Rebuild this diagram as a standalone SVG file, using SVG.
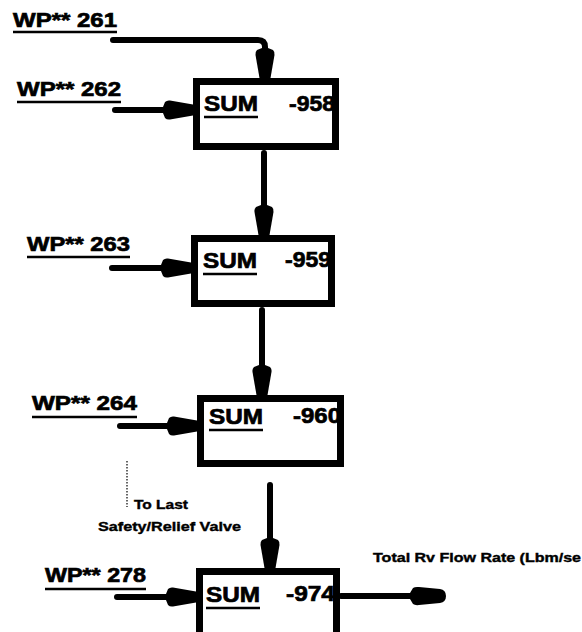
<svg xmlns="http://www.w3.org/2000/svg" width="582" height="632" viewBox="0 0 582 632">
<style>
.box{fill:#fff;stroke:#000;stroke-width:7}
.lbl{font-family:"Liberation Sans",Arial,sans-serif;font-weight:bold;fill:#000;stroke:#000;stroke-width:0.7}
.wp{font-size:21px}
.sum{font-size:22px}
.small{font-size:13px;stroke-width:0.4}
.ul{stroke:#000;stroke-width:2.5}
.wire{fill:none;stroke:#000;stroke-width:6;stroke-linecap:round;stroke-linejoin:round}
</style>
<defs>
<marker id="ah" markerUnits="userSpaceOnUse" markerWidth="30" markerHeight="20" refX="0" refY="10" orient="auto" viewBox="0 0 30 20">
<path d="M0,7 L2,2 Q4,0 7,0.5 L30,4.5 L30,15.5 L7,19.5 Q4,20 2,18 L0,13 Z" fill="#000"/>
</marker>
<marker id="bulb" markerUnits="userSpaceOnUse" markerWidth="37" markerHeight="20" refX="0" refY="10" orient="auto" viewBox="0 0 37 20">
<path d="M0,7 L3,2 Q5,0.5 9,1 L30,3 Q36,4 36,10 Q36,16 30,17 L9,19 Q5,19.5 3,18 L0,13 Z" fill="#000"/>
</marker>
</defs>

<g id="connectors">
<path class="wire" d="M113,40 H258 Q265,40 265,47 V48" marker-end="url(#ah)"/>
<path class="wire" d="M115,110 H163" marker-end="url(#ah)"/>
<path class="wire" d="M264,153 V205" marker-end="url(#ah)"/>
<path class="wire" d="M112,268 H161" marker-end="url(#ah)"/>
<path class="wire" d="M262,310 V365" marker-end="url(#ah)"/>
<path class="wire" d="M120,426 H167" marker-end="url(#ah)"/>
<path class="wire" d="M270,485 V538" marker-end="url(#ah)"/>
<path class="wire" d="M117,597 H166" marker-end="url(#ah)"/>
<path class="wire" d="M341,596 H410" marker-end="url(#bulb)"/>
<line x1="127" y1="461" x2="127" y2="507" stroke="#000" stroke-width="1.2" stroke-dasharray="1.5,1.5"/>
</g>

<g id="wp261">
<text class="lbl wp" x="13" y="27" textLength="104" lengthAdjust="spacingAndGlyphs">WP** 261</text>
<line class="ul" x1="13" y1="32" x2="117" y2="32"/>
</g>
<g id="wp262">
<text class="lbl wp" x="17" y="96" textLength="104" lengthAdjust="spacingAndGlyphs">WP** 262</text>
<line class="ul" x1="17" y1="102" x2="121" y2="102"/>
</g>
<g id="wp263">
<text class="lbl wp" x="27" y="251" textLength="103" lengthAdjust="spacingAndGlyphs">WP** 263</text>
<line class="ul" x1="27" y1="257" x2="130" y2="257"/>
</g>
<g id="wp264">
<text class="lbl wp" x="32" y="410" textLength="105" lengthAdjust="spacingAndGlyphs">WP** 264</text>
<line class="ul" x1="32" y1="417" x2="137" y2="417"/>
</g>
<g id="wp278">
<text class="lbl wp" x="45" y="582" textLength="101" lengthAdjust="spacingAndGlyphs">WP** 278</text>
<line class="ul" x1="45" y1="589" x2="146" y2="589"/>
</g>

<g id="sum958">
<rect class="box" x="196.5" y="81.5" width="139" height="65"/>
<text class="lbl sum" x="204" y="111" textLength="54" lengthAdjust="spacingAndGlyphs">SUM</text>
<line class="ul" x1="204" y1="117" x2="258" y2="117"/>
<text class="lbl sum" x="289" y="111" textLength="46" lengthAdjust="spacingAndGlyphs">-958</text>
</g>
<g id="sum959">
<rect class="box" x="194.5" y="238.5" width="137" height="65"/>
<text class="lbl sum" x="203" y="268" textLength="54" lengthAdjust="spacingAndGlyphs">SUM</text>
<line class="ul" x1="203" y1="274" x2="257" y2="274"/>
<text class="lbl sum" x="285" y="267" textLength="46" lengthAdjust="spacingAndGlyphs">-959</text>
</g>
<g id="sum960">
<rect class="box" x="200.5" y="398.5" width="140" height="65"/>
<text class="lbl sum" x="209" y="424" textLength="54" lengthAdjust="spacingAndGlyphs">SUM</text>
<line class="ul" x1="209" y1="430" x2="263" y2="430"/>
<text class="lbl sum" x="293" y="423" textLength="48" lengthAdjust="spacingAndGlyphs">-960</text>
</g>
<g id="sum974">
<rect class="box" x="199.5" y="571.5" width="137" height="64"/>
<text class="lbl sum" x="206" y="602" textLength="54" lengthAdjust="spacingAndGlyphs">SUM</text>
<line class="ul" x1="206" y1="608" x2="260" y2="608"/>
<text class="lbl sum" x="286" y="601" textLength="49" lengthAdjust="spacingAndGlyphs">-974</text>
</g>

<g id="note">
<text class="lbl small" x="134" y="509" textLength="54" lengthAdjust="spacingAndGlyphs">To Last</text>
<text class="lbl small" x="98" y="531" textLength="143" lengthAdjust="spacingAndGlyphs">Safety/Relief Valve</text>
</g>
<g id="output-label">
<text class="lbl small" x="373" y="562" textLength="208" lengthAdjust="spacingAndGlyphs">Total Rv Flow Rate (Lbm/se</text>
</g>
</svg>
